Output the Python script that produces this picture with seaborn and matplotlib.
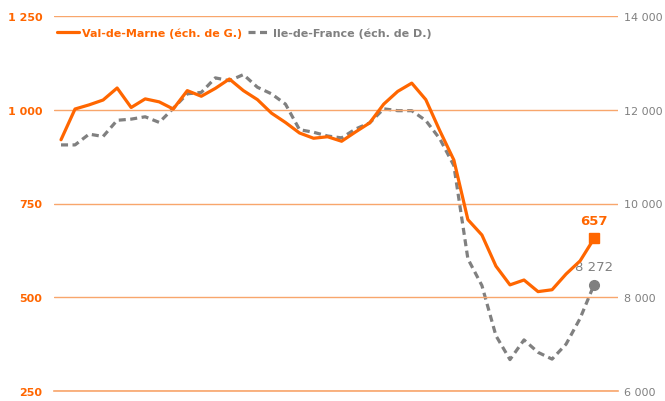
import numpy as np
import pandas as pd
import matplotlib
matplotlib.use("Agg")
import matplotlib.pyplot as plt
import seaborn as sns

# Data (quarterly)
val_de_marne = [920, 1002, 1013, 1026, 1058, 1006, 1029, 1021, 1002, 1051,
                1036, 1057, 1082, 1051, 1027, 991, 966, 938, 924, 928,
                916, 941, 965, 1015, 1049, 1071, 1027, 944, 866, 707,
                666, 583, 533, 546, 515, 520, 562, 597, 657]
ile_de_france = [11250, 11250, 11480, 11430, 11775, 11800, 11850, 11730, 12030, 12340,
                 12370, 12680, 12620, 12750, 12480, 12340, 12120, 11575, 11520, 11440,
                 11400, 11590, 11720, 12020, 11980, 11980, 11770, 11380, 10810, 8820,
                 8250, 7180, 6670, 7090, 6825, 6680, 7000, 7550, 8272]
left_ticks = [250, 500, 750, 1000, 1250]
left_labels = ["250", "500", "750", "1 000", "1 250"]
right_ticks = [6000, 8000, 10000, 12000, 14000]
right_labels = ["6 000", "8 000", "10 000", "12 000", "14 000"]
series_names = ["Val-de-Marne (éch. de G.)", "Ile-de-France (éch. de D.)"]
last_labels = ["657", "8 272"]

ORANGE = "#FF6600"
GRID = "#F8A66C"
GRAY = "#808080"

sns.set_style("white")
plt.rcParams['font.family'] = ['DejaVu Sans']

df = pd.DataFrame({
    "x": np.arange(len(val_de_marne)) + 0.5,
    "vdm": val_de_marne,
    "idf": ile_de_france,
})

fig = plt.figure(figsize=(6.65, 4.02), dpi=100)
ax = fig.add_axes([54/665, 1 - 392/402, (618-54)/665, (392-17)/402])
ax2 = ax.twinx()

ax.set_zorder(ax2.get_zorder() + 1)
ax.patch.set_visible(False)

sns.lineplot(data=df, x="x", y="idf", ax=ax2, color=GRAY, lw=2.3,
             linestyle=(0, (2.2, 1.4)), label=series_names[1], legend=False)
sns.lineplot(data=df, x="x", y="vdm", ax=ax, color=ORANGE, lw=2.3,
             label=series_names[0], legend=False)

ax.set_xlim(0, 40.2)
ax.set_ylim(250, 1250)
ax2.set_ylim(6000, 14000)

# end markers
xe = df["x"].iloc[-1]
ax.plot(xe, val_de_marne[-1], marker="s", ms=7.5, color=ORANGE, zorder=5)
ax2.plot(xe, ile_de_france[-1], marker="o", ms=7, color=GRAY, zorder=5)
ax.annotate(last_labels[0], (xe, val_de_marne[-1]), xytext=(0, 8),
            textcoords="offset points", ha="center", va="bottom",
            color=ORANGE, fontsize=9.5, fontweight="bold")
ax2.annotate(last_labels[1], (xe, ile_de_france[-1]), xytext=(0, 8),
             textcoords="offset points", ha="center", va="bottom",
             color=GRAY, fontsize=9.5)

ax.set_xticks(np.linspace(0, 40.2, 11))
ax.set_xticklabels([])
ax.tick_params(axis="x", direction="out", length=4, width=1, color=GRID, pad=0)

ax.set_yticks(left_ticks)
ax.set_yticklabels(left_labels)
ax.tick_params(axis="y", length=0, pad=8.5, labelcolor=ORANGE, labelsize=8)
for t in ax.get_yticklabels():
    t.set_fontweight("bold")
ax2.set_yticks(right_ticks)
ax2.set_yticklabels(right_labels)
ax2.tick_params(axis="y", length=0, pad=4, labelcolor=GRAY, labelsize=8)

ax.yaxis.grid(True, color=GRID, lw=1)
ax.xaxis.grid(False)
ax2.grid(False)

for a in (ax, ax2):
    for s in ("top", "left", "right", "bottom"):
        a.spines[s].set_visible(False)
ax.spines["bottom"].set_visible(True)
ax.spines["bottom"].set_color(GRID)
ax.spines["bottom"].set_linewidth(1.2)

ax.set_xlabel("")
ax.set_ylabel("")
ax2.set_ylabel("")

h1, l1 = ax.get_legend_handles_labels()
h2, l2 = ax2.get_legend_handles_labels()
leg = ax.legend(h1 + h2, l1 + l2, loc="upper left", ncol=2, frameon=False,
                bbox_to_anchor=(-0.012, 0.995), handlelength=2.0, handletextpad=0.2,
                columnspacing=0.6, prop={"size": 8, "weight": "bold"})
for txt, c in zip(leg.get_texts(), [ORANGE, GRAY]):
    txt.set_color(c)

fig.savefig("out.png", dpi=100)
